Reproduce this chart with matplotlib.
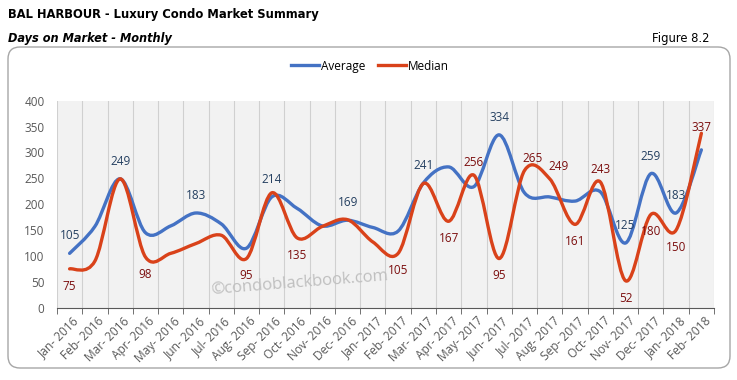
import matplotlib
matplotlib.use("Agg")
import matplotlib.pyplot as plt
import numpy as np
from matplotlib.path import Path
from matplotlib.patches import PathPatch, FancyBboxPatch
from matplotlib.lines import Line2D
from matplotlib.ticker import MultipleLocator
from matplotlib.transforms import ScaledTranslation

# %% Data
# ----------------------------------------------------------------------
months = ["Jan- 2016", "Feb- 2016", "Mar- 2016", "Apr- 2016", "May- 2016", "Jun- 2016",
          "Jul- 2016", "Aug- 2016", "Sep- 2016", "Oct- 2016", "Nov- 2016", "Dec- 2016",
          "Jan- 2017", "Feb- 2017", "Mar- 2017", "Apr- 2017", "May- 2017", "Jun- 2017",
          "Jul- 2017", "Aug- 2017", "Sep- 2017", "Oct- 2017", "Nov- 2017", "Dec- 2017",
          "Jan- 2018", "Feb- 2018"]
average = [105, 157, 249, 145, 158, 183, 162, 115, 214, 192, 158, 169, 155,
           148, 241, 272, 234, 334, 222, 214, 206, 224, 125, 259, 183, 305]
median = [75, 90, 249, 98, 105, 124, 140, 95, 222, 135, 157, 170, 127,
          105, 240, 167, 256, 95, 265, 249, 161, 243, 52, 180, 150, 337]

# which points carry a data label
avg_labels = [0, 2, 5, 8, 11, 14, 17, 22, 23, 24]
med_labels_below = [0, 3, 7, 9, 13, 15, 17, 20, 22, 23, 24]
med_labels_above = [16, 18, 19, 21, 25]

blue = "#4472C4"
red = "#D9421A"
blue_txt = "#243F60"
red_txt = "#7B0D0D"
grey_txt = "#595959"

plt.rcParams['font.family'] = ['Open Sans', 'DejaVu Sans']
narrow = ["Liberation Sans Narrow", "DejaVu Sans"]


def smooth_path(xs, ys):
    # excel-like smoothed line: catmull-rom as cubic bezier
    pts = np.column_stack([xs, ys]).astype(float)
    p = np.vstack([pts[0], pts, pts[-1]])
    verts = [pts[0]]
    codes = [Path.MOVETO]
    for i in range(1, len(p) - 2):
        c1 = p[i] + (p[i + 1] - p[i - 1]) / 6.0
        c2 = p[i + 1] - (p[i + 2] - p[i]) / 6.0
        verts += [c1, c2, p[i + 1]]
        codes += [Path.CURVE4] * 3
    return Path(verts, codes)


# %% Figure
# ----------------------------------------------------------------------
fig = plt.figure(figsize=(7.37, 3.80), dpi=100)

box = FancyBboxPatch((0.08, 0.12), 7.22, 3.21, boxstyle="round,pad=0,rounding_size=0.12",
                     transform=fig.dpi_scale_trans, fc="white", ec="#A6A6A6", lw=1.0,
                     zorder=-5)
fig.patches.append(box)

fig.text(0.011, 0.963, "BAL HARBOUR - Luxury Condo Market Summary", fontsize=9.3,
         fontweight="bold", fontstretch="condensed", family=narrow, va="center")
fig.text(0.011, 0.898, "Days on Market - Monthly", fontsize=9.1, fontweight="bold",
         fontstretch="condensed", fontstyle="italic", family=narrow, va="center")
fig.text(0.963, 0.898, "Figure 8.2", fontsize=9.3, ha="right", fontstretch="condensed",
         family=narrow, va="center")

ax = fig.add_axes([0.0773, 0.1903, 0.8915, 0.5447])
ax.set_facecolor("#F2F2F2")
x = np.arange(len(months))

ax.add_patch(PathPatch(smooth_path(x, average), fill=False, ec=blue, lw=2.4,
                       capstyle="round", joinstyle="round", zorder=3))
ax.add_patch(PathPatch(smooth_path(x, median), fill=False, ec=red, lw=2.4,
                       capstyle="round", joinstyle="round", zorder=4))

ax.set_xlim(-0.5, len(months) - 0.5)
ax.set_ylim(0, 400)
ax.yaxis.set_major_locator(MultipleLocator(50))
ax.tick_params(axis="y", length=0, labelsize=8.5, labelcolor=grey_txt, pad=9)

ax.set_xticks(x)
ax.set_xticklabels(months, rotation=45, ha="right", va="top", rotation_mode="anchor")
ax.set_xticks(np.arange(-0.5, len(months)), minor=True)
ax.tick_params(axis="x", which="major", length=0, labelsize=8.6, labelcolor=grey_txt, pad=5)
ax.tick_params(axis="x", which="minor", length=4, color="#595959", direction="out")
shift = ScaledTranslation(3 / 100, 0, fig.dpi_scale_trans)
for lab in ax.get_xticklabels():
    lab.set_transform(lab.get_transform() + shift)
ax.grid(which="minor", axis="x", color="#D0D0D0", lw=0.8)
ax.grid(which="major", visible=False)
for s in ["left", "right", "top"]:
    ax.spines[s].set_visible(False)
ax.spines["bottom"].set_color("#595959")

# data labels
for i in avg_labels:
    ax.annotate(str(average[i]), (x[i], average[i]), xytext=(0, 12.5), textcoords="offset points",
                ha="center", va="center", fontsize=8.5, color=blue_txt, zorder=6)
for i in med_labels_below:
    ax.annotate(str(median[i]), (x[i], median[i]), xytext=(0, -12.5), textcoords="offset points",
                ha="center", va="center", fontsize=8.5, color=red_txt, zorder=6)
above_dx = {18: 6, 19: 6}
above_dy = {25: 4}
for i in med_labels_above:
    ax.annotate(str(median[i]), (x[i], median[i]),
                xytext=(above_dx.get(i, 0), above_dy.get(i, 9)), textcoords="offset points",
                ha="center", va="center", fontsize=8.5, color=red_txt, zorder=6)

# watermark
ax.text(0.37, 0.12, "\u00a9condoblackbook.com", transform=ax.transAxes, fontsize=12,
        color="#BFBFBF", rotation=4.5, ha="center", va="center", zorder=2)

handles = [Line2D([], [], color=blue, lw=2.4), Line2D([], [], color=red, lw=2.4)]
fig.legend(handles, ["Average", "Median"], loc="center", bbox_to_anchor=(0.502, 0.826),
           ncol=2, frameon=False, fontsize=8.5, handlelength=2.4, handletextpad=0.2,
           columnspacing=1.0)

fig.savefig("out.png", dpi=100)
